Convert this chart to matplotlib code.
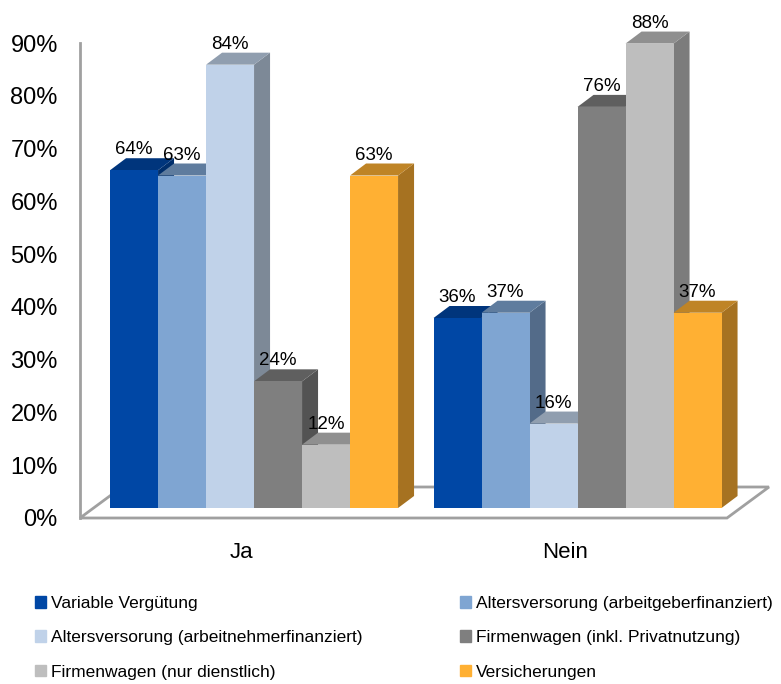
import matplotlib
matplotlib.use('Agg')
import matplotlib.pyplot as plt
from matplotlib.colors import to_rgb
from matplotlib.patches import Patch, Polygon

plt.rcParams['font.family'] = 'Liberation Sans'

groups = ['Ja', 'Nein']
series = ['Variable Vergütung', 'Altersversorung (arbeitgeberfinanziert)',
          'Altersversorung (arbeitnehmerfinanziert)', 'Firmenwagen (inkl. Privatnutzung)',
          'Firmenwagen (nur dienstlich)', 'Versicherungen']
colors = ['#0047A5', '#7FA5D2', '#C0D2E9', '#7F7F7F', '#BEBEBE', '#FFB033']
ja_values = [64, 63, 84, 24, 12, 63]
nein_values = [36, 37, 16, 76, 88, 37]
yticks = [0, 10, 20, 30, 40, 50, 60, 70, 80, 90]

W, H = 781, 684
fig = plt.figure(figsize=(W / 100, H / 100), dpi=100)
# axes plane: x 80..727 px, y 518..43 px
ax = fig.add_axes([80 / W, 1 - 518 / H, 647 / W, 475 / H])
ax.set_xlim(-0.5, 1.5)
ax.set_ylim(0, 90)

px_x = 2 / 647   # one pixel in data units
px_y = 90 / 475

bar_w = 48 * px_x
shift_x = 12.3 * px_x
base = 10 * px_y
side_dx = 16 * px_x
side_dy = 12 * px_y


def shade(color, factor):
    return tuple(c * factor for c in to_rgb(color))


# floor
floor_dx = 42 * px_x
floor_dy = 31 * px_y
ax.add_patch(Polygon([(-0.5, 0), (1.5, 0), (1.5 + floor_dx, floor_dy), (-0.5 + floor_dx, floor_dy)],
                     closed=True, facecolor='white', edgecolor='#A0A0A0', lw=2, zorder=1, clip_on=False))

z = 2
for g, values in enumerate([ja_values, nein_values]):
    for i, val in enumerate(values):
        left = g + shift_x + (i - 3) * bar_w
        right = left + bar_w
        top = base + val
        # side and top faces first, front goes over them
        ax.add_patch(Polygon([(right, base), (right + side_dx, base + side_dy),
                              (right + side_dx, top + side_dy), (right, top)],
                             color=shade(colors[i], 0.65), lw=0, zorder=z, clip_on=False))
        ax.add_patch(Polygon([(left, top), (right, top), (right + side_dx, top + side_dy),
                              (left + side_dx, top + side_dy)],
                             color=shade(colors[i], 0.75), lw=0, zorder=z, clip_on=False))
        ax.bar(left, val, width=bar_w, bottom=base, align='edge', color=colors[i], zorder=z, clip_on=False)
        z += 1

# labels on top of everything
for g, values in enumerate([ja_values, nein_values]):
    for i, val in enumerate(values):
        center = g + shift_x + (i - 3) * bar_w + bar_w / 2
        ax.annotate(f'{val}%', (center, base + val), xytext=(0, 16), textcoords='offset pixels',
                    ha='center', va='baseline', fontsize=13.5, color='black', zorder=50,
                    annotation_clip=False)

for s in ['top', 'right', 'bottom']:
    ax.spines[s].set_visible(False)
ax.spines['left'].set_color('#A0A0A0')
ax.spines['left'].set_linewidth(2)
ax.patch.set_visible(False)

ax.set_yticks(yticks)
ax.set_yticklabels([f'{t}%' for t in yticks], fontsize=17)
ax.tick_params(axis='y', length=0, pad=16)
ax.set_xticks([0, 1])
ax.set_xticklabels(groups, fontsize=16)
ax.tick_params(axis='x', length=0, pad=17)

handles = [Patch(color=c, label=s) for c, s in zip(colors, series)]
order = [0, 2, 4, 1, 3, 5]  # legend fills by column, reference reads by row
fig.legend([handles[i] for i in order], [series[i] for i in order], ncol=2,
           loc='upper left', bbox_to_anchor=(35 / W, 1 - 596 / H), frameon=False,
           fontsize=12.5, handlelength=0.65, handleheight=0.65, handletextpad=0.29,
           columnspacing=5.57, labelspacing=1.11, borderpad=0, borderaxespad=0)

fig.savefig('out.png', dpi=100)
